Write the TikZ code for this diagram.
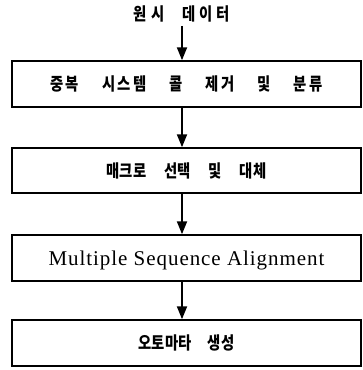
\documentclass[tikz,border=0pt]{standalone}
\usepackage{graphicx}
\usepackage{fontspec}
\newfontfamily\kr{Noto Sans CJK KR}
\newfontfamily\lat[LetterSpace=4.5]{Liberation Serif}
\newcommand\hz[1]{\scalebox{0.82}[1]{#1}}
\usetikzlibrary{arrows.meta}
\begin{document}
\begin{tikzpicture}[x=1pt,y=-1pt,
  box/.style={draw,line width=1.5pt,minimum width=349pt,inner sep=0pt},
  arr/.style={line width=2pt,-{Triangle[length=13pt,width=10pt]}},
  ktext/.style={font=\kr\bfseries\fontsize{17.5}{20}\selectfont},
  ltext/.style={font=\lat\fontsize{21}{24}\selectfont,text depth=0pt}]
\useasboundingbox (0,0) rectangle (363,370);
\node[ktext] (t) at (182,14) {\hz{원\kern5pt 시\hspace{22pt}데\kern5pt 이\kern5pt 터}};
\node[box,ktext,minimum height=46pt] (b1) at (186.5,84) {\hz{중\kern3pt 복\hspace{28pt}시\kern3pt 스\kern3pt 템\hspace{28pt}콜\hspace{28pt}제\kern3pt 거\hspace{28pt}및\hspace{28pt}분\kern3pt 류}};
\node[box,ktext,minimum height=45pt] (b2) at (186.5,170.5) {\hz{매크로\hspace{22pt}선택\hspace{22pt}및\hspace{22pt}대체}};
\node[box,ltext,minimum height=46pt] (b3) at (186.5,258) {Multiple Sequence Alignment};
\node[box,ktext,minimum height=46pt] (b4) at (186.5,343) {\hz{오토마타\hspace{20pt}생성}};
\draw[arr] (t.south) -- (t.south |- b1.north);
\draw[arr] (b1.south -| t.south) -- (b2.north -| t.south);
\draw[arr] (b2.south -| t.south) -- (b3.north -| t.south);
\draw[arr] (b3.south -| t.south) -- (b4.north -| t.south);
\end{tikzpicture}
\end{document}
